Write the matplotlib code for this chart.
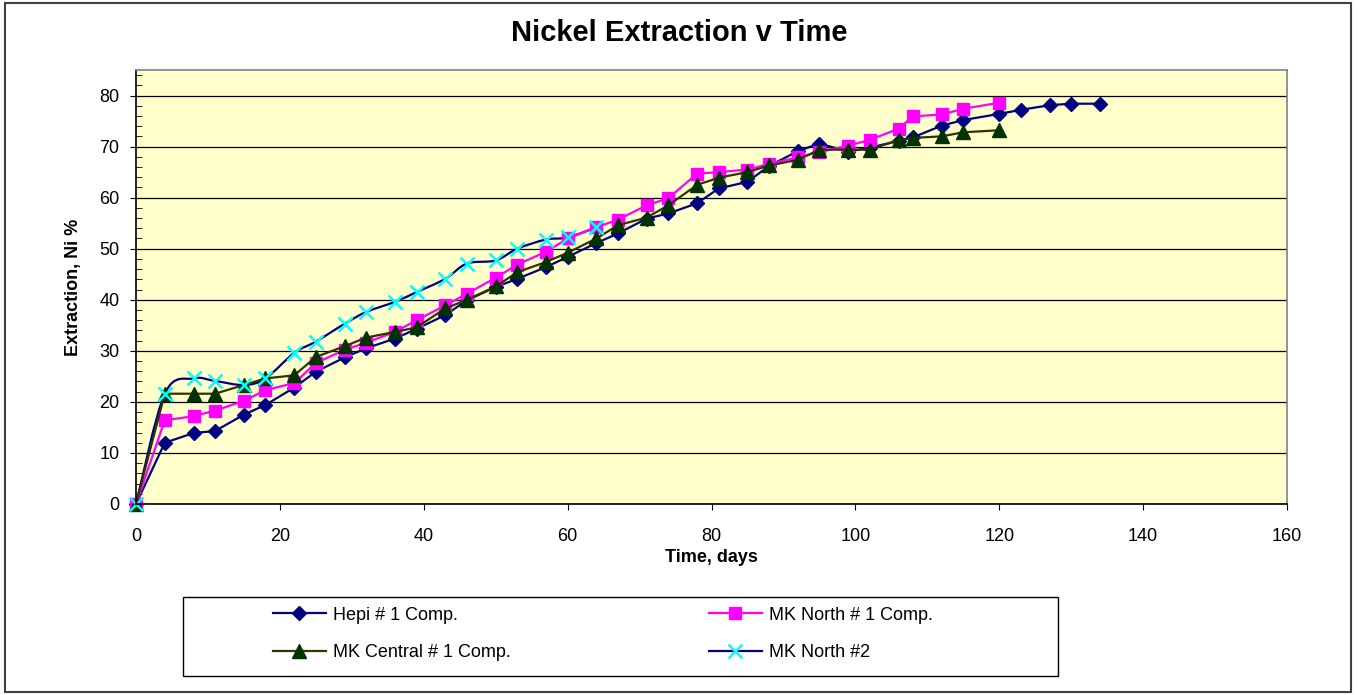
import matplotlib.pyplot as plt
from matplotlib.lines import Line2D
from matplotlib.patches import PathPatch, Rectangle
from matplotlib.path import Path
from matplotlib.ticker import MultipleLocator

plt.rcParams["font.family"] = ["Liberation Sans", "DejaVu Sans"]

# data
hepi_days = [0, 4, 8, 11, 15, 18, 22, 25, 29, 32, 36, 39, 43, 46, 50, 53, 57, 60, 64, 67,
             71, 74, 78, 81, 85, 88, 92, 95, 99, 102, 106, 108, 112, 115, 120, 123, 127, 130, 134]
hepi_ni = [0, 12.0, 13.9, 14.3, 17.5, 19.4, 22.8, 25.9, 28.7, 30.5, 32.4, 34.3, 37.0, 39.9,
           42.5, 44.1, 46.4, 48.4, 51.1, 53.0, 55.9, 56.9, 58.9, 61.8, 63.1, 66.2, 69.1, 70.6,
           69.0, 69.8, 71.1, 71.8, 74.1, 75.2, 76.4, 77.2, 78.1, 78.4, 78.4]

north1_days = [0, 4, 8, 11, 15, 18, 22, 25, 29, 32, 36, 39, 43, 46, 50, 53, 57, 60, 64, 67,
               71, 74, 78, 81, 85, 88, 92, 95, 99, 102, 106, 108, 112, 115, 120]
north1_ni = [0, 16.4, 17.2, 18.3, 20.2, 22.3, 23.7, 27.6, 30.2, 31.6, 33.7, 36.0, 38.9, 41.2,
             44.3, 46.9, 49.4, 52.0, 54.2, 55.7, 58.5, 59.9, 64.7, 65.0, 65.5, 66.6, 67.9,
             68.9, 70.2, 71.3, 73.5, 75.9, 76.3, 77.4, 78.6]

central_days = [0, 4, 8, 11, 15, 18, 22, 25, 29, 32, 36, 39, 43, 46, 50, 53, 57, 60, 64, 67,
                71, 74, 78, 81, 85, 88, 92, 95, 99, 102, 106, 108, 112, 115, 120]
central_ni = [0, 21.6, 21.6, 21.6, 23.3, 24.6, 25.2, 28.8, 30.9, 32.6, 33.7, 34.6, 38.3, 40.0,
              42.6, 45.4, 47.4, 49.2, 52.0, 54.6, 56.1, 58.5, 62.5, 63.9, 65.0, 66.3, 67.4,
              69.4, 69.4, 69.4, 71.3, 71.7, 72.0, 72.8, 73.2]

north2_days = [0, 4, 8, 11, 15, 18, 22, 25, 29, 32, 36, 39, 43, 46, 50, 53, 57, 60, 64]
north2_ni = [0, 21.6, 24.6, 24.1, 23.3, 24.6, 29.6, 31.8, 35.3, 37.6, 39.6, 41.5, 44.1, 47.1,
             47.7, 50.0, 51.8, 52.2, 54.2]

NAVY = "#000080"
MAGENTA = "#FF00FF"
OLIVE = "#333300"
DKGREEN = "#003300"
CYAN = "#00FFFF"


def smooth_path(xs, ys):
    # Excel style smoothed line: cubic bezier through the points
    verts = [(xs[0], ys[0])]
    codes = [Path.MOVETO]
    n = len(xs)
    for i in range(n - 1):
        x0, y0 = (xs[i - 1], ys[i - 1]) if i > 0 else (xs[i], ys[i])
        x1, y1 = xs[i], ys[i]
        x2, y2 = xs[i + 1], ys[i + 1]
        x3, y3 = (xs[i + 2], ys[i + 2]) if i + 2 < n else (x2, y2)
        c1 = (x1 + (x2 - x0) / 6, y1 + (y2 - y0) / 6)
        c2 = (x2 - (x3 - x1) / 6, y2 - (y3 - y1) / 6)
        verts += [c1, c2, (x2, y2)]
        codes += [Path.CURVE4] * 3
    return Path(verts, codes)


fig = plt.figure(figsize=(13.59, 6.95), dpi=100)
W, H = 1359, 695

# outer chart border
fig.patches.append(Rectangle((5 / W, 3 / H), 1346 / W, 689 / H, transform=fig.transFigure,
                             fill=False, edgecolor="#404040", linewidth=1.5))

ax = fig.add_axes([136 / W, 1 - 504 / H, 1151 / W, 434 / H])
ax.set_facecolor("#FFFFCC")

ax.plot(hepi_days, hepi_ni, color=NAVY, lw=1.6, marker="D", ms=7, mfc=NAVY, mec=NAVY,
        clip_on=False)
ax.plot(north1_days, north1_ni, color=MAGENTA, lw=1.6, marker="s", ms=8.5, mfc=MAGENTA,
        mec=MAGENTA, clip_on=False)
ax.plot(central_days, central_ni, color=OLIVE, lw=1.6, marker="^", ms=9.5, mfc=DKGREEN,
        mec=DKGREEN, clip_on=False)
ax.add_patch(PathPatch(smooth_path(north2_days, north2_ni), fill=False, edgecolor=NAVY, lw=1.6))
ax.plot(north2_days, north2_ni, ls="none", marker="x", ms=10, mew=1.8, mec=CYAN, clip_on=False)

ax.set_xlim(0, 160)
ax.set_ylim(0, 85)
ax.xaxis.set_major_locator(MultipleLocator(20))
ax.yaxis.set_major_locator(MultipleLocator(10))
ax.yaxis.set_minor_locator(MultipleLocator(2))
ax.grid(True, axis="y", which="major", color="black", lw=0.9)
ax.set_axisbelow(True)

for side in ["top", "right"]:
    ax.spines[side].set_color("#808080")
    ax.spines[side].set_linewidth(1.2)
for side in ["left", "bottom"]:
    ax.spines[side].set_color("black")
    ax.spines[side].set_linewidth(1.2)

ax.tick_params(axis="x", which="major", direction="out", length=4, pad=13.5, labelsize=13)
ax.tick_params(axis="y", which="major", direction="out", length=4, pad=8, labelsize=13)
ax.tick_params(axis="y", which="minor", direction="in", length=4)

ax.set_xlabel("Time, days", fontsize=13, fontweight="bold", labelpad=3)
ax.set_ylabel("Extraction, Ni %", fontsize=13, fontweight="bold", labelpad=12)

fig.text(0.5, 1 - 33 / H, "Nickel Extraction v Time", ha="center", va="center",
         fontsize=21, fontweight="bold")

# legend box and entries
fig.patches.append(Rectangle((183 / W, 1 - 676 / H), 875 / W, 79 / H, transform=fig.transFigure,
                             facecolor="white", edgecolor="black", linewidth=1.0))
handles = [
    Line2D([], [], color=NAVY, lw=1.6, marker="D", ms=7, mfc=NAVY, mec=NAVY),
    Line2D([], [], color=OLIVE, lw=1.6, marker="^", ms=9.5, mfc=DKGREEN, mec=DKGREEN),
    Line2D([], [], color=MAGENTA, lw=1.6, marker="s", ms=8.5, mfc=MAGENTA, mec=MAGENTA),
    Line2D([], [], color=NAVY, lw=1.6, marker="x", ms=10, mew=1.8, mec=CYAN),
]
labels = ["Hepi # 1 Comp.", "MK Central # 1 Comp.", "MK North # 1 Comp.", "MK North #2"]
fig.legend(handles, labels, loc="center", bbox_to_anchor=(603 / W, 1 - 634 / H),
           ncol=2, frameon=False, fontsize=13, handlelength=2.9, handletextpad=0.4,
           columnspacing=11.0, labelspacing=1.15)

fig.savefig("out.png", dpi=100)
plt.close(fig)
